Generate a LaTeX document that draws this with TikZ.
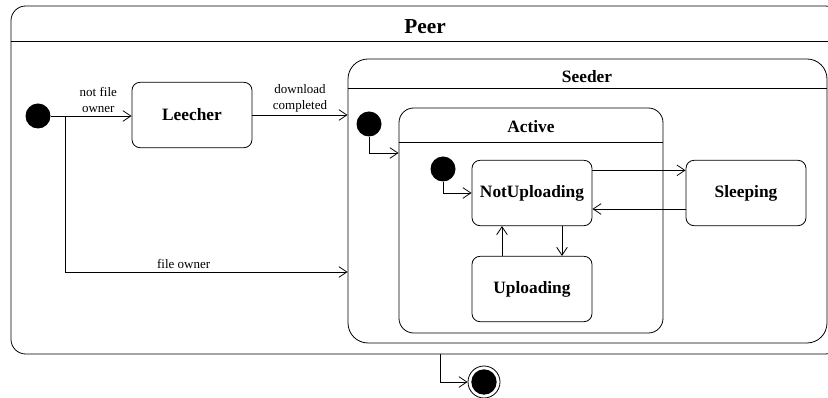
\documentclass[tikz,border=0pt]{standalone}
\usepackage{fontspec}
\setmainfont{Liberation Serif}
\usetikzlibrary{arrows.meta, positioning, calc}

\begin{document}
\begin{tikzpicture}[x=0.75pt, y=-0.75pt,
    line width=0.6pt,
    state/.style={draw, rounded corners=6pt, minimum width=90pt, minimum height=49pt, font=\bfseries\fontsize{13}{15}\selectfont},
    comp/.style={draw, rounded corners=11pt, inner sep=0pt},
    ctitle/.style={font=\bfseries\fontsize{13}{15}\selectfont},
    init/.style={circle, fill=black, inner sep=0pt, minimum size=18.75pt},
    trans/.style={-{Straight Barb[length=6pt, width=8pt]}},
    lbl/.style={font=\fontsize{9.75}{12}\selectfont, align=center, inner sep=2pt}]
\useasboundingbox (0,0) rectangle (828,398);
\clip (0,0) rectangle (828,398);
% containers
\node[comp, minimum width=621.75pt, minimum height=261pt] (peer) at (425.5,180) {};
\node[ctitle, font=\bfseries\fontsize{16}{19}\selectfont] (peert) at (425,27) {Peer};
\draw ($(peer.north west)+(0,36)$) -- ($(peer.north east)+(0,36)$);
\node[comp, rounded corners=15pt, minimum width=359.25pt, minimum height=213pt] (seeder) at (587.5,201) {};
\node[ctitle] (seedert) at (587,77) {Seeder};
\draw ($(seeder.north west)+(0,30)$) -- ($(seeder.north east)+(0,30)$);
\node[comp, minimum width=198pt, minimum height=168.75pt] (active) at (531,220.5) {};
\node[ctitle] (activet) at (531,127) {Active};
\draw ($(active.north west)+(0,35)$) -- ($(active.north east)+(0,35)$);
% states
\node[state] (leecher) at (192,115) {Leecher};
\node[state] (notup) at (532,193) {NotUploading};
\node[state] (sleep) at (746,193) {Sleeping};
\node[state] (uplo) at (532,289) {Uploading};
% initial and final
\node[init] (i0) at (38,116) {};
\node[init] (i1) at (369,124) {};
\node[init] (i2) at (443,169) {};
\node[circle, draw, inner sep=0pt, minimum size=24pt] (fin) at (484,382) {};
\node[init, minimum size=19pt] (finc) at (fin) {};
\coordinate (br) at (65,116);
\coordinate (fo) at (0,272);
\coordinate (ac) at (0,153);
% transitions
\draw (i0) -- (br);
\draw[trans] (br) -- node[lbl, above] {not file\\owner} (leecher.west |- br);
\draw[trans] (br) |- node[lbl, above, pos=0.71] {file owner} (seeder.west |- fo);
\draw[trans] (leecher) -- node[lbl, above] {download\\completed} (seeder.west |- leecher);
\draw[trans] (i1) |- (active.west |- ac);
\draw[trans] (i2) |- (notup.west);
\draw[trans] ([yshift=17pt]notup.east) -- ([yshift=17pt]sleep.west);
\draw[trans] ([yshift=-12pt]sleep.west) -- ([yshift=-12pt]notup.east);
\draw[trans] ([xshift=22.5pt]notup.south) -- ([xshift=22.5pt]uplo.north);
\draw[trans] ([xshift=-22.5pt]uplo.north) -- ([xshift=-22.5pt]notup.south);
\draw[trans] ([xshift=11.5pt]peer.south) |- (fin);
\end{tikzpicture}
\end{document}
